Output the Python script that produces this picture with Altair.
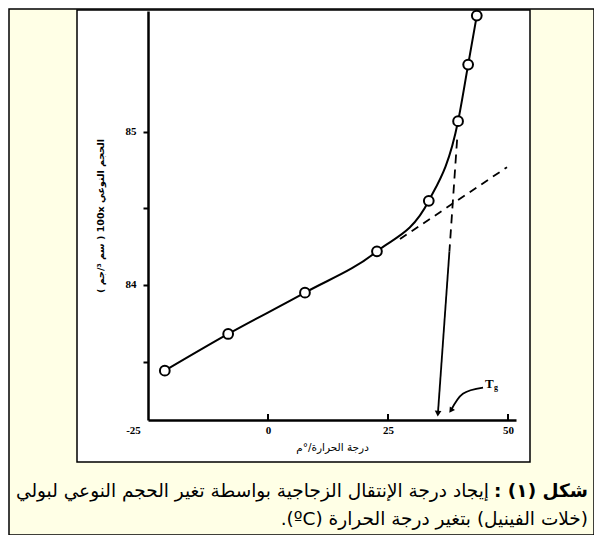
import altair as alt
import pandas as pd

# ---------------- data ----------------
temp = [-21.5, -8.3, 7.7, 22.7, 33.5, 39.6, 41.7, 43.5]
vol = [83.44, 83.68, 83.95, 84.22, 84.55, 85.07, 85.44, 85.76]

ext_t = [27.5, 49.8]          # dashed extrapolation of glassy line
ext_v = [84.30, 84.77]

tg_dash_t = [39.4, 37.8]      # dashed part of Tg drop line
tg_dash_v = [84.95, 84.22]
tg_solid_t = [37.8, 35.4]     # solid part with arrow
tg_solid_v = [84.22, 83.16]

tgarrow_t = [44.8, 40.6, 38.1]  # curved pointer from label
tgarrow_v = [83.33, 83.29, 83.18]
tg_label_t = [45.2]
tg_label_v = [83.355]

x_ticks = [-25, 0, 25, 50]
x_inner_ticks = [0, 25, 50]
y_ticks = [83.5, 84, 84.5, 85]
xdom = [-25, 51.67]
ydom = [83.118, 85.79]

RLE, PDF = "\u202b", "\u202c"
x_title = "درجة الحرارة/°م"
y_title = "الحجم النوعي 100x ( سم ³/جم )"
cap_bold = "شكل (١) :"
cap_line1 = "إيجاد درجة الإنتقال الزجاجية بواسطة تغير الحجم النوعي لبولي"
cap_line2 = "(خلات الفينيل) بتغير درجة الحرارة (ºC)."

W, H = 368, 409
BLACK = "#000000"

xs = alt.Scale(domain=xdom, nice=False, zero=False)
ys = alt.Scale(domain=ydom, nice=False, zero=False)

xaxis = alt.Axis(values=x_ticks, ticks=False, grid=False, domainWidth=2.5, domainColor=BLACK,
                 labelExpr="'' + datum.value", labelFont="Liberation Serif", labelFontWeight="bold",
                 labelFontSize=11, labelColor=BLACK, labelPadding=4, labelFlush=False,
                 labelOffset={"condition": {"test": "datum.value == -25", "value": -15}, "value": 0},
                 title=RLE + x_title + PDF, titleFont="DejaVu Sans", titleFontSize=10.5,
                 titleFontWeight="normal", titleColor=BLACK, titlePadding=7, zindex=1)
yaxis = alt.Axis(values=y_ticks, grid=False, tickSize=5, tickWidth=2, tickColor=BLACK,
                 domainWidth=2.5, domainColor=BLACK,
                 labelExpr="datum.value % 1 == 0 ? '' + datum.value : ''",
                 labelFont="Liberation Serif", labelFontWeight="bold", labelFontSize=11,
                 labelColor=BLACK, labelPadding=7,
                 title=RLE + y_title + PDF, titleFont="DejaVu Sans", titleFontSize=9.5,
                 titleFontWeight="bold", titleColor=BLACK, titlePadding=20, zindex=1)

X = alt.X("t:Q", scale=xs, axis=xaxis)
Y = alt.Y("v:Q", scale=ys, axis=yaxis)

one = pd.DataFrame({"k": [0]})

# ---------------- frames ----------------
outer = alt.Chart(one).mark_rect(fill="#FFFFE6", stroke=BLACK, strokeWidth=1.5).encode(
    x=alt.value(-139), x2=alt.value(446), y=alt.value(-2), y2=alt.value(524))
inner = alt.Chart(one).mark_rect(fill="white", stroke=BLACK, strokeWidth=1.5).encode(
    x=alt.value(-71), x2=alt.value(382), y=alt.value(-1), y2=alt.value(451))

# ---------------- main data ----------------
pts = pd.DataFrame({"t": temp, "v": vol})

line = alt.Chart(pts).mark_line(color=BLACK, strokeWidth=2, interpolate="monotone").encode(x=X, y=Y)
points = alt.Chart(pts).mark_point(shape="circle", size=95, filled=True, fill="white",
                                   stroke=BLACK, strokeWidth=2, opacity=1).encode(x=X, y=Y)

ext = alt.Chart(pd.DataFrame({"t": ext_t, "v": ext_v})).mark_line(
    color=BLACK, strokeWidth=1.8, strokeDash=[8, 6]).encode(x=X, y=Y)

tgd = alt.Chart(pd.DataFrame({"t": tg_dash_t, "v": tg_dash_v, "o": [0, 1]})).mark_line(
    color=BLACK, strokeWidth=1.8, strokeDash=[9, 6]).encode(x=X, y=Y, order="o:Q")
tgs = alt.Chart(pd.DataFrame({"t": tg_solid_t, "v": tg_solid_v, "o": [0, 1]})).mark_line(
    color=BLACK, strokeWidth=1.8).encode(x=X, y=Y, order="o:Q")
tgs_head = alt.Chart(pd.DataFrame({"t": tg_solid_t[-1:], "v": tg_solid_v[-1:]})).mark_point(
    shape="triangle-down", size=45, filled=True, color=BLACK, opacity=1, angle=4).encode(x=X, y=Y)

curve = alt.Chart(pd.DataFrame({"t": tgarrow_t, "v": tgarrow_v, "o": [0, 1, 2]})).mark_line(
    color=BLACK, strokeWidth=1.8, interpolate="cardinal").encode(x=X, y=Y, order="o:Q")
curve_head = alt.Chart(pd.DataFrame({"t": tgarrow_t[-1:], "v": tgarrow_v[-1:]})).mark_point(
    shape="triangle-down", size=40, filled=True, color=BLACK, opacity=1, angle=35).encode(x=X, y=Y)

tgdf = pd.DataFrame({"t": tg_label_t, "v": tg_label_v})
tlab = alt.Chart(tgdf).mark_text(text="T", font="Liberation Serif", fontWeight="bold",
                                 fontSize=13, color=BLACK, align="left", baseline="middle").encode(x=X, y=Y)
glab = alt.Chart(tgdf).mark_text(text="g", font="Liberation Serif", fontWeight="bold",
                                 fontSize=8, color=BLACK, align="left", baseline="middle",
                                 dx=9, dy=4).encode(x=X, y=Y)

xt = alt.Chart(pd.DataFrame({"t": x_inner_ticks})).mark_rule(color=BLACK, strokeWidth=2).encode(
    x=X, y=alt.value(H - 6), y2=alt.value(H))

# ---------------- caption ----------------
CAP_X = 440
FS = 18.5
c1b = alt.Chart(one).mark_text(text=RLE + cap_bold + PDF, font="DejaVu Sans", fontWeight="bold",
                               fontSize=FS, color=BLACK, align="right", baseline="middle").encode(
    x=alt.value(CAP_X), y=alt.value(480))
c1 = alt.Chart(one).mark_text(text=RLE + cap_line1 + PDF, font="DejaVu Sans", fontWeight="normal",
                              fontSize=FS, color=BLACK, align="right", baseline="middle").encode(
    x=alt.value(CAP_X - 99), y=alt.value(480))
c2 = alt.Chart(one).mark_text(text=RLE + cap_line2 + PDF, font="DejaVu Sans", fontWeight="normal",
                              fontSize=FS, color=BLACK, align="right", baseline="middle").encode(
    x=alt.value(CAP_X), y=alt.value(508))

chart = alt.layer(outer, inner, line, ext, tgd, tgs, tgs_head, curve, curve_head,
                  points, tlab, glab, xt, c1b, c1, c2).properties(
    width=W, height=H,
    padding={"left": 140, "top": 3, "right": 78, "bottom": 115},
    autosize=alt.AutoSizeParams(type="none"),
    background="white",
).configure_view(strokeWidth=0)

chart.save("out.html", embed_options={"renderer": "svg", "actions": False})
